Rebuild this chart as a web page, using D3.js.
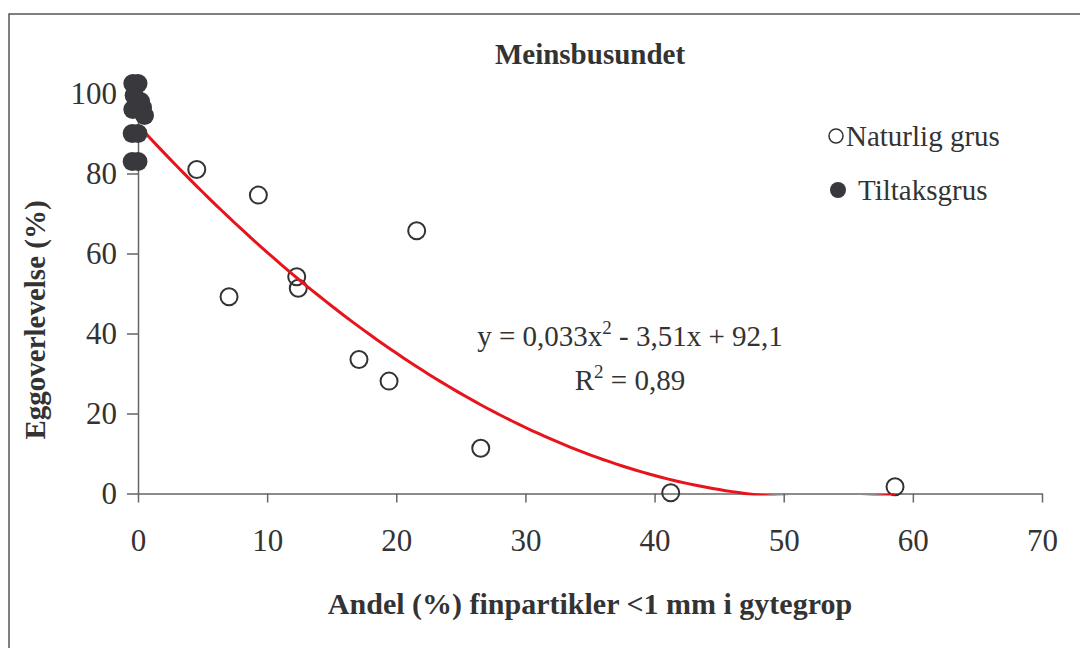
<!DOCTYPE html>
<html>
<head>
<meta charset="utf-8">
<script src="https://cdn.jsdelivr.net/npm/d3@7"></script>
<style>
  body { margin: 0; background: #fff; }
  text { font-family: "Liberation Serif", "Times New Roman", serif; fill: #333; }
</style>
</head>
<body>
<div class="canvas"></div>
<script>
// data
const naturligX = [4.55, 9.32, 21.58, 12.29, 12.41, 7.05, 17.11, 19.44, 26.54, 41.25, 58.62];
const naturligY = [81.0, 74.6, 65.7, 54.2, 51.3, 49.2, 33.5, 28.1, 11.3, 0.2, 1.7];
const tiltakX = [-0.4, 0.0, -0.3, 0.2, 0.35, 0.5, -0.4, -0.45, 0.0, -0.45, 0.0];
const tiltakY = [102.5, 102.5, 99.5, 98, 96.5, 94.5, 96, 90, 90, 83, 83];
const xTicks = [0, 10, 20, 30, 40, 50, 60, 70];
const yTicks = [0, 20, 40, 60, 80, 100];
// trendline y = c0 + c1 x + c2 x^2
const coef = [92.1, -3.51, 0.033];

const width = 1080, height = 648;
const axisColor = '#666';

const svg = d3
  .select('.canvas')
  .append('svg')
  .attr('width', width)
  .attr('height', height);

svg.append('rect').attr('width', width).attr('height', height).attr('fill', '#fff');

// outer frame
svg
  .append('rect')
  .attr('x', 9)
  .attr('y', 14)
  .attr('width', 1200)
  .attr('height', 800)
  .attr('fill', 'none')
  .attr('stroke', '#555')
  .attr('stroke-width', 1.5);

const x = d3.scaleLinear().domain([0, 70]).range([138, 1042]);
const y = d3.scaleLinear().domain([0, 100]).range([493.5, 93.5]);

// axes
const xAxis = svg
  .append('g')
  .attr('transform', `translate(0, ${y(0)})`)
  .call(d3.axisBottom(x).tickValues(xTicks).tickSize(9).tickPadding(26).tickSizeOuter(0));

const yAxis = svg
  .append('g')
  .attr('transform', `translate(${x(0)}, 0)`)
  .call(d3.axisLeft(y).tickValues(yTicks).tickSize(11).tickPadding(10).tickSizeOuter(0));

[xAxis, yAxis].forEach(g => {
  g.selectAll('path, line').attr('stroke', axisColor).attr('stroke-width', 1.5);
  g.selectAll('text').attr('font-size', 31).attr('font-family', '"Liberation Serif", serif').attr('fill', '#333');
});
xAxis.selectAll('text').attr('dy', '0.71em');

// open circles
svg
  .append('g')
  .selectAll('circle')
  .data(naturligX.map((d, i) => ({ x: d, y: naturligY[i] })))
  .enter()
  .append('circle')
  .attr('cx', d => x(d.x))
  .attr('cy', d => y(d.y))
  .attr('r', 8.5)
  .attr('fill', 'none')
  .attr('stroke', '#333')
  .attr('stroke-width', 2);

// trendline, clipped at the plot area
svg
  .append('clipPath')
  .attr('id', 'plot')
  .append('rect')
  .attr('x', x(0))
  .attr('y', y(100) - 20)
  .attr('width', x(70) - x(0))
  .attr('height', y(0) - y(100) + 22);

const fit = v => coef[0] + coef[1] * v + coef[2] * v * v;
const trend = d3.range(0, 58.7, 0.5).concat([58.62]).map(v => [v, fit(v)]);

svg
  .append('path')
  .attr('clip-path', 'url(#plot)')
  .attr('d', d3.line().x(d => x(d[0])).y(d => y(d[1]))(trend))
  .attr('fill', 'none')
  .attr('stroke', '#e8141c')
  .attr('stroke-width', 3);

// filled circles
svg
  .append('g')
  .selectAll('circle')
  .data(tiltakX.map((d, i) => ({ x: d, y: tiltakY[i] })))
  .enter()
  .append('circle')
  .attr('cx', d => x(d.x))
  .attr('cy', d => y(d.y))
  .attr('r', 9.5)
  .attr('fill', '#38383d');

// title
svg
  .append('text')
  .attr('x', 590)
  .attr('y', 64)
  .attr('text-anchor', 'middle')
  .attr('font-size', 29)
  .attr('font-weight', 'bold')
  .text('Meinsbusundet');

// axis titles
svg
  .append('text')
  .attr('x', 590)
  .attr('y', 614)
  .attr('text-anchor', 'middle')
  .attr('font-size', 30)
  .attr('font-weight', 'bold')
  .text('Andel (%) finpartikler <1 mm i gytegrop');

svg
  .append('text')
  .attr('transform', 'translate(45, 320) rotate(-90)')
  .attr('text-anchor', 'middle')
  .attr('font-size', 29)
  .attr('font-weight', 'bold')
  .text('Eggoverlevelse (%)');

// legend
const legend = svg.append('g');
legend
  .append('circle')
  .attr('cx', 836)
  .attr('cy', 136)
  .attr('r', 7)
  .attr('fill', 'none')
  .attr('stroke', '#333')
  .attr('stroke-width', 1.5);
legend.append('text').attr('x', 846).attr('y', 146).attr('font-size', 29).text('Naturlig grus');
legend.append('circle').attr('cx', 838).attr('cy', 190).attr('r', 8).attr('fill', '#38383d');
legend.append('text').attr('x', 858).attr('y', 200).attr('font-size', 29).text('Tiltaksgrus');

// equation
const eq = svg.append('text').attr('x', 630).attr('y', 346).attr('text-anchor', 'middle').attr('font-size', 29);
eq.append('tspan').text('y = 0,033x');
eq.append('tspan').attr('dy', -12).attr('font-size', 19).text('2');
eq.append('tspan').attr('dy', 12).text(' - 3,51x + 92,1');

const r2 = svg.append('text').attr('x', 630).attr('y', 390).attr('text-anchor', 'middle').attr('font-size', 29);
r2.append('tspan').text('R');
r2.append('tspan').attr('dy', -12).attr('font-size', 19).text('2');
r2.append('tspan').attr('dy', 12).text(' = 0,89');
</script>
</body>
</html>
